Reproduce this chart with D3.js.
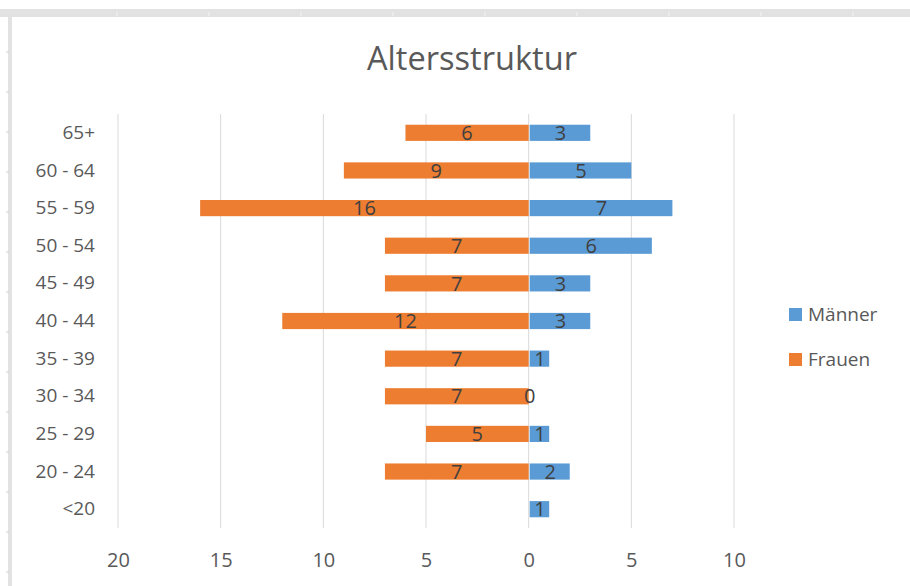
<!DOCTYPE html>
<html>
<head>
<meta charset="utf-8">
<script src="https://cdn.jsdelivr.net/npm/d3@7"></script>
<style>
  body { margin: 0; background: #fff; }
  text { font-family: "Open Sans", "Liberation Sans", sans-serif; }
</style>
</head>
<body>
<svg id="chart"></svg>
<script>
const ageGroups = ['65+', '60 - 64', '55 - 59', '50 - 54', '45 - 49', '40 - 44',
  '35 - 39', '30 - 34', '25 - 29', '20 - 24', '<20'];
const maenner = [3, 5, 7, 6, 3, 3, 1, 0, 1, 2, 1];
const frauen = [6, 9, 16, 7, 7, 12, 7, 7, 5, 7, 0];
const xTicks = [-20, -15, -10, -5, 0, 5, 10];
const seriesNames = ['Männer', 'Frauen'];
const seriesColors = ['#5b9bd5', '#ed7d31'];

const W = 910, H = 586;
const svg = d3.select('#chart').attr('width', W).attr('height', H);

// spreadsheet backdrop (chart sits on an Excel sheet)
svg.append('rect').attr('x', 0).attr('y', 9).attr('width', W).attr('height', 8).attr('fill', '#e2e2e2');
svg.append('rect').attr('x', 8).attr('y', 9).attr('width', 4).attr('height', H).attr('fill', '#e2e2e2');
svg.append('rect').attr('x', 12).attr('y', 17).attr('width', W - 12).attr('height', H - 17).attr('fill', '#fff');
svg.append('g').selectAll('line')
  .data(d3.range(117, W, 92))
  .enter().append('line')
    .attr('x1', d => d).attr('x2', d => d)
    .attr('y1', 12).attr('y2', 16)
    .attr('stroke', '#f4f4f4');
svg.append('g').selectAll('line')
  .data(d3.range(52, H, 40))
  .enter().append('line')
    .attr('x1', 6).attr('x2', 9)
    .attr('y1', d => d).attr('y2', d => d)
    .attr('stroke', '#cfcfcf');

const x = d3.scaleLinear().domain([-20, 10]).range([118, 734]);
const y = d3.scaleBand().domain(ageGroups).range([114, 528]).paddingInner(0.57).paddingOuter(0.285);

// title
svg.append('text')
  .attr('x', 472).attr('y', 70)
  .attr('text-anchor', 'middle')
  .attr('font-size', '32px')
  .attr('fill', '#595959')
  .attr('textLength', 210)
  .attr('lengthAdjust', 'spacingAndGlyphs')
  .text('Altersstruktur');

// vertical gridlines
svg.append('g').selectAll('line')
  .data(xTicks)
  .enter().append('line')
    .attr('x1', d => x(d)).attr('x2', d => x(d))
    .attr('y1', 114).attr('y2', 528)
    .attr('stroke', '#d9d9d9')
    .attr('stroke-width', 1);

// x axis labels (absolute values)
const xAxis = svg.append('g')
  .attr('transform', 'translate(0,528)')
  .call(d3.axisBottom(x).tickValues(xTicks).tickFormat(d => Math.abs(d)).tickSize(0).tickPadding(25));
xAxis.select('.domain').remove();
xAxis.selectAll('text').attr('font-size', '20px').attr('fill', '#595959')
  .attr('font-family', '"Open Sans", sans-serif');

// y axis labels
const yAxis = svg.append('g')
  .attr('transform', 'translate(95,0)')
  .call(d3.axisLeft(y).tickSize(0).tickPadding(0));
yAxis.select('.domain').remove();
yAxis.selectAll('text').attr('font-size', '19px').attr('fill', '#595959')
  .attr('font-family', '"Open Sans", sans-serif');

const rows = ageGroups.map((g, i) => ({ group: g, m: maenner[i], f: frauen[i] }));

// Frauen bars (left)
svg.append('g').selectAll('rect')
  .data(rows)
  .enter().append('rect')
    .attr('x', d => x(-d.f))
    .attr('y', d => y(d.group))
    .attr('width', d => x(0) - x(-d.f))
    .attr('height', y.bandwidth())
    .attr('fill', seriesColors[1]);

// Männer bars (right)
svg.append('g').selectAll('rect')
  .data(rows)
  .enter().append('rect')
    .attr('x', x(0) + 1)
    .attr('y', d => y(d.group))
    .attr('width', d => Math.max(0, x(d.m) - x(0) - 1))
    .attr('height', y.bandwidth())
    .attr('fill', seriesColors[0]);

// data labels
const labels = svg.append('g')
  .attr('font-size', '20px')
  .attr('fill', '#404040')
  .attr('text-anchor', 'middle');

labels.selectAll('text.f')
  .data(rows.filter(d => d.f > 0))
  .enter().append('text')
    .attr('class', 'f')
    .attr('x', d => x(-d.f / 2))
    .attr('y', d => y(d.group) + y.bandwidth() / 2)
    .attr('dy', '0.36em')
    .text(d => d.f);

labels.selectAll('text.m')
  .data(rows)
  .enter().append('text')
    .attr('class', 'm')
    .attr('x', d => x(d.m / 2) + 1)
    .attr('y', d => y(d.group) + y.bandwidth() / 2)
    .attr('dy', '0.36em')
    .text(d => d.m);

// legend
const legend = svg.append('g').attr('transform', 'translate(789,314)');
seriesNames.forEach((name, i) => {
  const item = legend.append('g').attr('transform', `translate(0,${i * 45})`);
  item.append('rect')
    .attr('x', 0).attr('y', -6)
    .attr('width', 13).attr('height', 13)
    .attr('fill', seriesColors[i]);
  item.append('text')
    .attr('x', 19).attr('y', 0).attr('dy', '0.36em')
    .attr('font-size', '19px')
    .attr('fill', '#595959')
    .text(name);
});
</script>
</body>
</html>
